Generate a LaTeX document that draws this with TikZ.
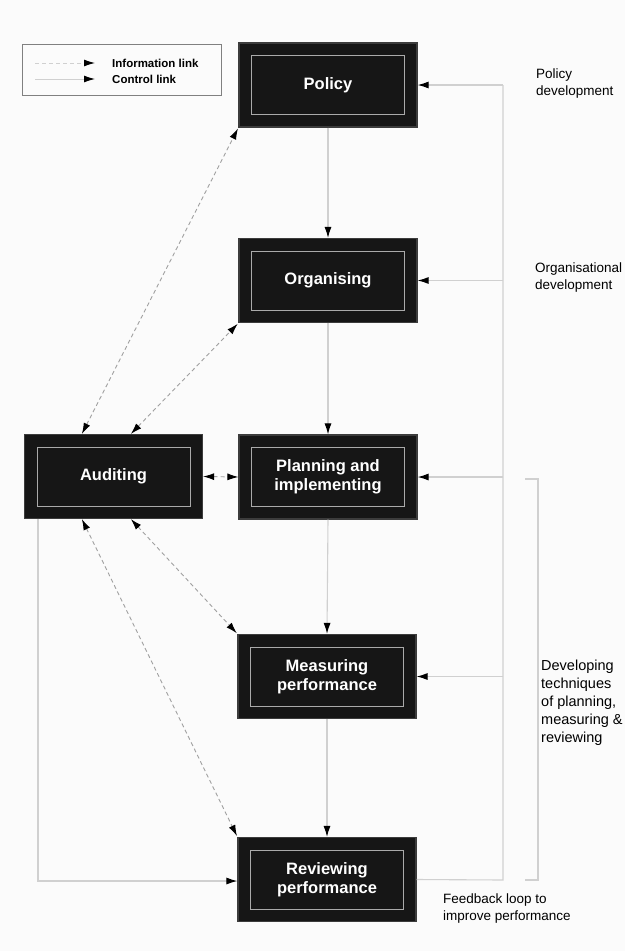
\documentclass[tikz,border=0pt]{standalone}
\usepackage{fontspec}
\setmainfont{Liberation Sans}
\usetikzlibrary{arrows.meta,calc}
\definecolor{bg}{RGB}{251,251,251}
\definecolor{lineg}{RGB}{208,208,208}
\definecolor{dashg}{RGB}{160,160,160}
\definecolor{frameg}{RGB}{170,170,170}
\definecolor{boxfill}{RGB}{22,22,22}
\definecolor{boxedge}{RGB}{60,60,60}
\begin{document}
\begin{tikzpicture}[x=1pt,y=-1pt,
  headend/.style={-{Latex[length=11pt,width=7pt,color=black]}},
  bothends/.style={{Latex[length=11pt,width=7pt,color=black]}-{Latex[length=11pt,width=7pt,color=black]}},
  ctrl/.style={lineg, line width=1.1pt},
  info/.style={dashg, line width=0.9pt, dash pattern=on 4pt off 3pt},
  stagebox/.style={rectangle, minimum width=178pt, minimum height=84pt, inner sep=0pt,
    draw=boxedge, line width=1.2pt, fill=boxfill,
    text=white, font=\fontsize{16.5}{19.5}\selectfont\bfseries, align=center,
    path picture={\draw[frameg, line width=0.8pt]
      ([shift={(12.5pt,-12.5pt)}]path picture bounding box.north west) rectangle
      ([shift={(-12.5pt,12.5pt)}]path picture bounding box.south east);}},
  rlabel/.style={font=\fontsize{13.5}{17}\selectfont, align=left, inner sep=0pt, anchor=west},
  legtext/.style={font=\fontsize{11.5}{13}\selectfont\bfseries, inner sep=0pt, anchor=west}
]
\fill[bg] (0,0) rectangle (625,951);
\useasboundingbox (0,0) rectangle (625,951);

% stage boxes
\node[stagebox] (pol)  at (328,85)    {Policy};
\node[stagebox] (org)  at (328,280.5) {Organising};
\node[stagebox] (plan) at (328,477)   {Planning and\\implementing};
\node[stagebox] (meas) at (327,676.5) {Measuring\\performance};
\node[stagebox] (rev)  at (327,879.5) {Reviewing\\performance};
\node[stagebox] (aud)  at (113.5,476.5) {Auditing};

% control links down the chain
\draw[ctrl,headend] (pol.south) -- (org.north);
\draw[ctrl,headend] (org.south) -- (plan.north);
\draw[ctrl,headend] (plan.south) -- (meas.north);
\draw[ctrl,headend] (meas.south) -- (rev.north);

% feedback loop on the right
\coordinate (rtop) at (503,85);
\coordinate (rbot) at (503,880);
\draw[ctrl] (rev.east) -- (rbot) -- (rtop);
\draw[ctrl,headend] (rtop) -- (pol.east);
\draw[ctrl,headend] (rtop |- org.east) -- (org.east);
\draw[ctrl,headend] (rtop |- plan.east) -- (plan.east);
\draw[ctrl,headend] (rtop |- meas.east) -- (meas.east);

% bracket
\coordinate (b1) at (525,479);
\coordinate (b2) at (538,479);
\coordinate (b3) at (538,880);
\coordinate (b4) at (525,880);
\draw[ctrl] (b1) -- (b2) -- (b3) -- (b4);

% auditing to reviewing control loop
\coordinate (lb) at (38,881);
\draw[ctrl,headend] (aud.south -| lb) -- (lb) -- (rev.west |- lb);

% information links
\draw[info,bothends,shorten >=1pt] ([xshift=58pt]aud.north west) -- (pol.south west);
\draw[info,bothends,shorten >=1pt] ([xshift=107pt]aud.north west) -- (org.south west);
\draw[info,bothends] (aud.east) -- (plan.west);
\draw[info,bothends,shorten >=1pt] ([xshift=107pt]aud.south west) -- (meas.north west);
\draw[info,bothends,shorten >=1pt] ([xshift=58pt]aud.south west) -- (rev.north west);

% right labels
\node[rlabel] (lpol) at (536,84) {Policy\\development};
\node[rlabel] (lorg) at (535,277.5) {Organisational\\development};
\node[rlabel, font=\fontsize{14.5}{18}\selectfont] (ldev) at (541,703) {Developing\\techniques\\of planning,\\measuring \&\\reviewing};
\node[rlabel] (lfb) at (443,908) {Feedback loop to\\improve performance};

% legend
\node[draw=black!50, line width=0.6pt, minimum width=199pt, minimum height=51pt, inner sep=0pt] (leg) at (121.5,69.5) {};
\coordinate (li1) at (35,63);
\coordinate (li2) at (95,63);
\coordinate (lc1) at (35,79);
\coordinate (lc2) at (95,79);
\draw[info,lineg,headend] (li1) -- (li2);
\draw[ctrl,line width=0.9pt,headend] (lc1) -- (lc2);
\node[legtext] (lti) at (112,63) {Information link};
\node[legtext] (ltc) at (112,79) {Control link};
\end{tikzpicture}
\end{document}
